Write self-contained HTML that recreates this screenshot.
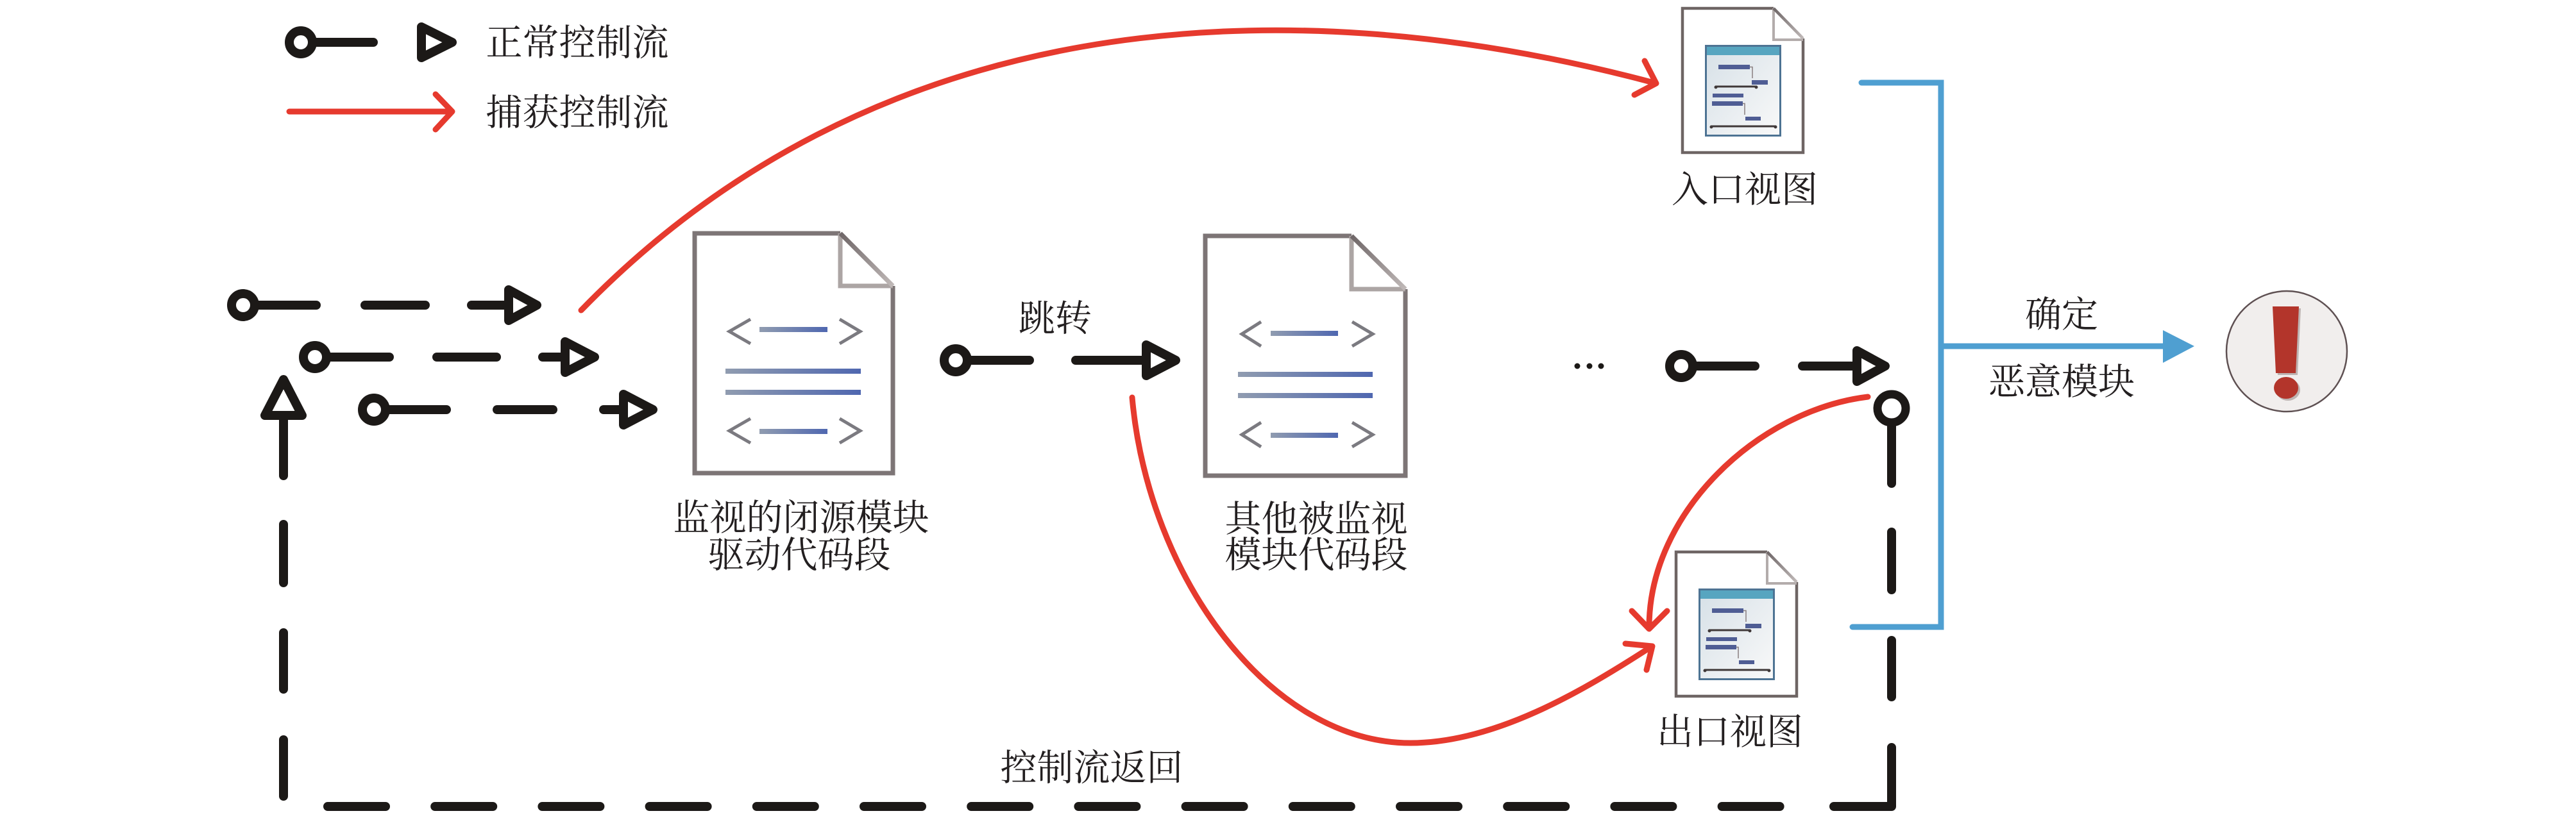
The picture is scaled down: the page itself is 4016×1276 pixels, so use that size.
<!DOCTYPE html>
<html><head><meta charset="utf-8">
<style>
html,body{margin:0;padding:0;background:#fff;}
svg{display:block;}
text{font-family:"Liberation Serif","Noto Serif CJK SC",serif;font-size:57px;fill:#231f20;}
</style></head><body>
<svg width="4016" height="1276" viewBox="0 0 4016 1276" xmlns="http://www.w3.org/2000/svg">
<defs>
<linearGradient id="bar" x1="0" x2="1" y1="0" y2="0"><stop offset="0" stop-color="#909cb0"/><stop offset="1" stop-color="#4f67b0"/></linearGradient>
<linearGradient id="diag" x1="0" y1="0" x2="1" y2="1"><stop offset="0" stop-color="#6e6667"/><stop offset="1" stop-color="#c0b9b8"/></linearGradient>
<linearGradient id="win" x1="0" y1="0" x2="1" y2="1"><stop offset="0" stop-color="#d6e0e7"/><stop offset="1" stop-color="#f9f9f9"/></linearGradient>
</defs>
<rect width="4016" height="1276" fill="#fff"/>

<!-- ===== Legend ===== -->
<g stroke="#1c1917" stroke-width="14" stroke-linecap="round" stroke-linejoin="round" fill="none">
  <path d="M469 66 H582"/>
  <circle cx="469" cy="66" r="18" fill="#fff"/>
  <path d="M657 42 L705 66 L657 90 Z" fill="#fff"/>
</g>
<g stroke="#e63a2e" stroke-width="9" stroke-linecap="round" stroke-linejoin="round" fill="none">
  <path d="M451 174 H702"/>
  <path d="M679 147 L705 174 L679 202"/>
</g>
<text x="900" y="86" text-anchor="middle">正常控制流</text>
<text x="900" y="195" text-anchor="middle">捕获控制流</text>

<!-- ===== Black control flow ===== -->
<g stroke="#1c1917" stroke-width="14" stroke-linecap="round" stroke-linejoin="round" fill="none">
  <!-- row 1 -->
  <path d="M379 476 H493"/><path d="M569 476 H663"/><path d="M735 476 H793"/>
  <path d="M793 452 L837 476 L793 500 Z" fill="#fff"/>
  <circle cx="379" cy="476" r="18" fill="#fff"/>
  <!-- row 2 -->
  <path d="M491 557 H607"/><path d="M681 557 H774"/><path d="M846 557 H881"/>
  <path d="M881 533 L927 557 L881 581 Z" fill="#fff"/>
  <circle cx="491" cy="557" r="18" fill="#fff"/>
  <!-- row 3 -->
  <path d="M583 639 H696"/><path d="M775 639 H862"/><path d="M941 639 H972"/>
  <path d="M972 615 L1018 639 L972 663 Z" fill="#fff"/>
  <circle cx="583" cy="639" r="18" fill="#fff"/>
  <!-- middle jump -->
  <path d="M1490 562 H1605"/><path d="M1677 562 H1787"/>
  <path d="M1787 538 L1833 562 L1787 586 Z" fill="#fff"/>
  <circle cx="1490" cy="562" r="18" fill="#fff"/>
  <!-- ... row -->
  <path d="M2621 571 H2736"/><path d="M2810 571 H2895"/>
  <path d="M2895 547 L2939 571 L2895 595 Z" fill="#fff"/>
  <circle cx="2621" cy="571" r="18" fill="#fff"/>
  <!-- left vertical return -->
  <path d="M442 648 V742"/><path d="M442 818 V909"/><path d="M442 987 V1075"/><path d="M442 1154 V1242"/>
  <path d="M442 592 L413 648 L471 648 Z" fill="#fff"/>
  <!-- bottom dashed -->
  <path d="M511 1258 H2776" stroke-dasharray="90 77.2"/>
  <path d="M2859 1258 H2949 V1166"/>
  <!-- right vertical -->
  <path d="M2949 659 V754"/><path d="M2949 830 V920"/><path d="M2949 999 V1087"/>
  <circle cx="2949" cy="637" r="22" stroke-width="13" fill="#fff"/>
</g>
<g fill="#1c1917">
  <circle cx="2459" cy="571" r="4.5"/><circle cx="2478" cy="571" r="4.5"/><circle cx="2496" cy="571" r="4.5"/>
</g>

<!-- ===== Document 1 ===== -->
<g fill="none">
  <path d="M1310 364 H1083 V738 H1392 V446" stroke="#7d7576" stroke-width="7" stroke-linejoin="miter"/>
  <path d="M1310 364 V446 H1392" stroke="#aca5a4" stroke-width="7"/>
  <path d="M1310 364 L1392 446" stroke="url(#diag)" stroke-width="7"/>
  <g stroke="#7b7a80" stroke-width="5" stroke-linejoin="miter">
    <path d="M1170 498 L1137 517 L1170 536"/><path d="M1309 498 L1341 517 L1309 536"/>
    <path d="M1170 653 L1137 672 L1170 691"/><path d="M1309 653 L1341 672 L1309 691"/>
  </g>
</g>
<rect x="1184" y="510" width="106" height="8" fill="url(#bar)"/>
<rect x="1131" y="575" width="211" height="8" fill="url(#bar)"/>
<rect x="1131" y="608" width="211" height="8" fill="url(#bar)"/>
<rect x="1184" y="669" width="106" height="8" fill="url(#bar)"/>
<text x="1249" y="827" text-anchor="middle">监视的闭源模块</text>
<text x="1246" y="885" text-anchor="middle">驱动代码段</text>

<text x="1645" y="516" text-anchor="middle">跳转</text>

<!-- ===== Document 2 ===== -->
<g fill="none">
  <path d="M2107 368 H1879 V742 H2191 V451" stroke="#7d7576" stroke-width="7" stroke-linejoin="miter"/>
  <path d="M2107 368 V451 H2191" stroke="#aca5a4" stroke-width="7"/>
  <path d="M2107 368 L2191 451" stroke="url(#diag)" stroke-width="7"/>
  <g stroke="#7b7a80" stroke-width="5" stroke-linejoin="miter">
    <path d="M1966 502 L1936 521 L1966 540"/><path d="M2108 502 L2140 521 L2108 540"/>
    <path d="M1966 659 L1936 678 L1966 697"/><path d="M2108 659 L2140 678 L2108 697"/>
  </g>
</g>
<rect x="1981" y="516" width="105" height="8" fill="url(#bar)"/>
<rect x="1930" y="580" width="210" height="8" fill="url(#bar)"/>
<rect x="1930" y="613" width="210" height="8" fill="url(#bar)"/>
<rect x="1981" y="675" width="105" height="8" fill="url(#bar)"/>
<text x="2052" y="829" text-anchor="middle">其他被监视</text>
<text x="2052" y="885" text-anchor="middle">模块代码段</text>

<!-- ===== Entry view ===== -->
<g id="entryIcon">
  <path d="M2765 13 H2623 V238 H2811 V60" fill="#fff" stroke="#6e6564" stroke-width="4.5"/>
  <path d="M2765 13 V62 H2811" fill="none" stroke="#b3acab" stroke-width="4"/>
  <path d="M2765 13 L2811 60" fill="none" stroke="url(#diag)" stroke-width="4.5"/>
  <rect x="2659.5" y="71.5" width="116" height="140" fill="url(#win)" stroke="#4d7393" stroke-width="3"/>
  <rect x="2661" y="73" width="113" height="13" fill="#57a5c0"/>
  <g fill="#4f5d94">
    <rect x="2679" y="101" width="49" height="7"/>
    <rect x="2731" y="125" width="25" height="7"/>
    <rect x="2670" y="146" width="48" height="6"/>
    <rect x="2669" y="158" width="48" height="7"/>
    <rect x="2721" y="182" width="24" height="6"/>
  </g>
  <g fill="none" stroke="#8a7f80" stroke-width="1.5">
    <path d="M2728 104.5 H2732 V122"/><path d="M2717 161.5 H2720 V179"/>
  </g>
  <g stroke="#3f3838" stroke-width="3">
    <path d="M2674 135 H2739"/><path d="M2667 197 H2769"/>
  </g>
  <g fill="#3f3838">
    <circle cx="2675" cy="136" r="2.5"/><circle cx="2738" cy="136" r="2.5"/>
    <circle cx="2668" cy="198" r="2.5"/><circle cx="2768" cy="198" r="2.5"/>
  </g>
</g>
<text x="2720" y="315" text-anchor="middle">入口视图</text>

<!-- ===== Exit view ===== -->
<g transform="translate(-10,848)">
  <path d="M2765 13 H2623 V238 H2811 V60" fill="#fff" stroke="#6e6564" stroke-width="4.5"/>
  <path d="M2765 13 V62 H2811" fill="none" stroke="#b3acab" stroke-width="4"/>
  <path d="M2765 13 L2811 60" fill="none" stroke="url(#diag)" stroke-width="4.5"/>
  <rect x="2659.5" y="71.5" width="116" height="140" fill="url(#win)" stroke="#4d7393" stroke-width="3"/>
  <rect x="2661" y="73" width="113" height="13" fill="#57a5c0"/>
  <g fill="#4f5d94">
    <rect x="2679" y="101" width="49" height="7"/>
    <rect x="2731" y="125" width="25" height="7"/>
    <rect x="2670" y="146" width="48" height="6"/>
    <rect x="2669" y="158" width="48" height="7"/>
    <rect x="2721" y="182" width="24" height="6"/>
  </g>
  <g fill="none" stroke="#8a7f80" stroke-width="1.5">
    <path d="M2728 104.5 H2732 V122"/><path d="M2717 161.5 H2720 V179"/>
  </g>
  <g stroke="#3f3838" stroke-width="3">
    <path d="M2674 135 H2739"/><path d="M2667 197 H2769"/>
  </g>
  <g fill="#3f3838">
    <circle cx="2675" cy="136" r="2.5"/><circle cx="2738" cy="136" r="2.5"/>
    <circle cx="2668" cy="198" r="2.5"/><circle cx="2768" cy="198" r="2.5"/>
  </g>
</g>
<text x="2697" y="1161" text-anchor="middle">出口视图</text>

<!-- ===== Red capture flows ===== -->
<g stroke="#e63a2e" stroke-width="9" stroke-linecap="round" stroke-linejoin="round" fill="none">
  <path d="M906 484 C1356 20, 1982 -30, 2578 129"/>
  <path d="M2564 95 L2582 130 L2548 148"/>
  <path d="M1765 620 C1790 900, 1980 1159, 2199 1159 C2330 1159, 2466 1079, 2574 1009"/>
  <path d="M2534 1004 L2576 1008 L2567 1045"/>
  <path d="M2912 619 C2740 640, 2571 800, 2571 978"/>
  <path d="M2544 953 L2571 981 L2599 953"/>
</g>

<!-- ===== Blue aggregation ===== -->
<g stroke="#4f9fd1" stroke-width="9" fill="none" stroke-linecap="round">
  <path d="M2902 129 H3026 V978 H2888"/>
  <path d="M3026 540 H3376" stroke-linecap="butt"/>
</g>
<polygon points="3372,515 3421,540 3372,566" fill="#4f9fd1"/>
<text x="3214" y="510" text-anchor="middle">确定</text>
<text x="3214" y="615" text-anchor="middle">恶意模块</text>

<!-- ===== Exclamation ===== -->
<circle cx="3565" cy="548" r="94" fill="#f1eeed" stroke="#5e5052" stroke-width="2.5"/>
<polygon points="3546,481 3587,481 3582,585 3551,585" fill="#bdb4b2"/>
<ellipse cx="3567" cy="608" rx="19" ry="17" fill="#bdb4b2"/>
<polygon points="3543,478 3584,478 3579,582 3548,582" fill="#b3352b"/>
<ellipse cx="3564" cy="605" rx="19" ry="17" fill="#b3352b"/>

<text x="1702" y="1217" text-anchor="middle">控制流返回</text>
</svg>
</body></html>
